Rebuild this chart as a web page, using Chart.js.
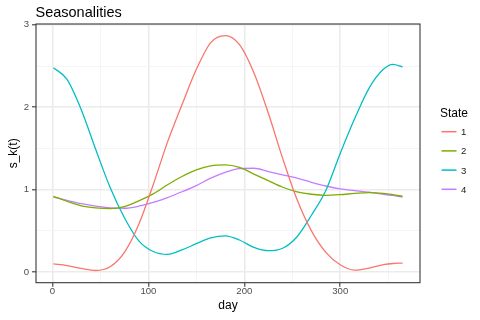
<!DOCTYPE html>
<html>
<head>
<meta charset="utf-8">
<script src="https://cdn.jsdelivr.net/npm/chart.js@4.4.0/dist/chart.umd.min.js"></script>
<style>
  html, body { margin: 0; padding: 0; background: #fff; }
  #caja { width: 480px; height: 320px; }
</style>
</head>
<body>
<div id="caja"><canvas id="lienzo" width="480" height="320"></canvas></div>
<script>
// Valores (dia del año -> s_k(t))
const dias = [1, 15, 30, 45, 60, 75, 90, 105, 120, 135, 150, 165, 180, 195, 210, 225, 240, 255, 270, 285, 300, 315, 330, 345, 355, 365];
const estado1 = [0.10, 0.08, 0.045, 0.02, 0.065, 0.24, 0.58, 1.06, 1.58, 2.03, 2.46, 2.785, 2.87, 2.76, 2.42, 1.93, 1.38, 0.88, 0.50, 0.24, 0.09, 0.025, 0.05, 0.09, 0.105, 0.11];
const estado2 = [0.92, 0.86, 0.805, 0.78, 0.77, 0.795, 0.865, 0.95, 1.06, 1.16, 1.24, 1.29, 1.30, 1.27, 1.19, 1.11, 1.03, 0.975, 0.945, 0.932, 0.94, 0.955, 0.965, 0.955, 0.94, 0.92];
const estado3 = [2.48, 2.34, 1.97, 1.49, 1.03, 0.66, 0.38, 0.25, 0.215, 0.27, 0.345, 0.415, 0.44, 0.39, 0.30, 0.26, 0.29, 0.43, 0.69, 0.99, 1.44, 1.86, 2.23, 2.46, 2.52, 2.49];
const estado4 = [0.91, 0.87, 0.83, 0.80, 0.78, 0.775, 0.80, 0.845, 0.905, 0.975, 1.05, 1.14, 1.21, 1.255, 1.26, 1.22, 1.18, 1.14, 1.09, 1.045, 1.01, 0.99, 0.97, 0.945, 0.93, 0.91];
const estados = ["1", "2", "3", "4"];

// Marcas de los ejes
const xMarcas = [0, 100, 200, 300];
const xMenores = [50, 150, 250, 350];
const yMarcas = [0, 1, 2, 3];
const yMenores = [0.5, 1.5, 2.5];

const colores = ['#F8766D', '#7CAE00', '#00BFC4', '#C77CFF'];
const fuente = '"Liberation Sans", Arial, sans-serif';
const series = [estado1, estado2, estado3, estado4];

// Borde del panel, titulo y leyenda dibujados a mano (estilo ggplot)
const panel = {
    id: 'panel',
    beforeDraw(chart) {
        const c = chart.ctx;
        c.save();
        c.fillStyle = '#fff';
        c.fillRect(0, 0, chart.width, chart.height);
        c.restore();
    },
    afterDraw(chart) {
        const c = chart.ctx;
        const a = chart.chartArea;
        c.save();
        c.strokeStyle = '#333';
        c.lineWidth = 1.07;
        c.strokeRect(a.left, a.top, a.right - a.left, a.bottom - a.top);

        c.fillStyle = '#000';
        c.textBaseline = 'alphabetic';
        c.textAlign = 'left';
        c.font = '14.5px ' + fuente;
        c.fillText('Seasonalities', a.left - 0.5, 16.7);

        c.font = '12px ' + fuente;
        c.fillText('State', 440, 117.3);
        chart.data.datasets.forEach((ds, i) => {
            const y = 131.7 + i * 19.2;
            c.strokeStyle = ds.borderColor;
            c.lineWidth = 1.5;
            c.beginPath();
            c.moveTo(441.5, y);
            c.lineTo(456.5, y);
            c.stroke();
            c.fillStyle = '#1a1a1a';
            c.font = '9.6px ' + fuente;
            c.fillText(ds.label, 461, y + 3.4);
        });
        c.restore();
    }
};

function rejilla(marcas) {
    return {
        color: c => marcas.includes(c.tick.value) ? '#ebebeb' : '#f3f3f3',
        lineWidth: c => marcas.includes(c.tick.value) ? 1.6 : 0.8,
        tickColor: c => marcas.includes(c.tick.value) ? '#333' : 'rgba(0,0,0,0)',
        tickLength: 4,
        tickWidth: 1.07
    };
}

const contexto = document.getElementById("lienzo").getContext("2d");
const grafico = new Chart(contexto, {
    type: 'line',
    data: {
        datasets: estados.map((e, i) => ({
            label: e,
            data: dias.map((d, j) => ({ x: d, y: series[i][j] })),
            borderColor: colores[i],
            backgroundColor: colores[i],
            borderWidth: 1.3,
            pointRadius: 0,
            cubicInterpolationMode: 'monotone',
            fill: false
        }))
    },
    options: {
        responsive: false,
        animation: false,
        layout: { padding: { top: 24, right: 60, bottom: 0, left: 0 } },
        plugins: {
            legend: { display: false },
            title: { display: false },
            tooltip: { enabled: false }
        },
        scales: {
            x: {
                type: 'linear',
                min: -17.2,
                max: 383.2,
                afterBuildTicks: eje => {
                    eje.ticks = [...xMarcas, ...xMenores].sort((a, b) => a - b).map(v => ({ value: v }));
                },
                afterFit: eje => {
                    eje.height = 37.3;
                    eje.paddingLeft = 0;
                    eje.paddingRight = 0;
                },
                ticks: {
                    callback: v => xMarcas.includes(v) ? String(v) : '',
                    color: '#4d4d4d',
                    font: { family: fuente, size: 9.6, lineHeight: 1 },
                    padding: 0,
                    maxRotation: 0,
                    autoSkip: false
                },
                grid: rejilla(xMarcas),
                border: { display: false },
                title: {
                    display: true,
                    text: 'day',
                    color: '#000',
                    font: { family: fuente, size: 12 },
                    padding: { top: 0, bottom: 7.3 }
                }
            },
            y: {
                type: 'linear',
                min: -0.128,
                max: 3.01,
                afterBuildTicks: eje => {
                    eje.ticks = [...yMarcas, ...yMenores].sort((a, b) => a - b).map(v => ({ value: v }));
                },
                afterFit: eje => {
                    eje.width = 36;
                    eje.paddingTop = 0;
                    eje.paddingBottom = 0;
                },
                ticks: {
                    callback: v => yMarcas.includes(v) ? String(v) : '',
                    color: '#4d4d4d',
                    font: { family: fuente, size: 9.6 },
                    padding: 3,
                    autoSkip: false
                },
                grid: rejilla(yMarcas),
                border: { display: false },
                title: {
                    display: true,
                    text: 's_k(t)',
                    color: '#000',
                    font: { family: fuente, size: 12 },
                    padding: { top: 6, bottom: 0 }
                }
            }
        }
    },
    plugins: [panel]
});
</script>
</body>
</html>
